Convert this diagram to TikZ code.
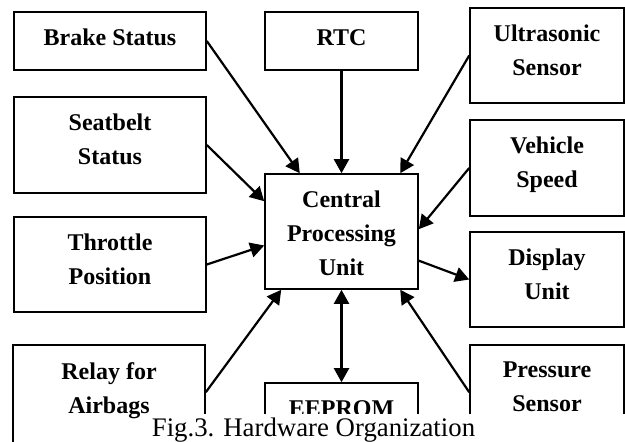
\documentclass[tikz,border=0pt]{standalone}
\usepackage{fontspec}
\setmainfont{Liberation Serif}
\usetikzlibrary{arrows.meta,calc,fit}

\tikzset{
  box/.style={draw, line width=0.8pt, inner sep=0pt},
  blab/.style={font=\bfseries\fontsize{12}{17}\selectfont, align=center, inner sep=0pt},
  link/.style={line width=1.1pt},
  caplab/.style={font=\fontsize{13.4}{16}\selectfont, inner sep=0pt}
}

\begin{document}
\begin{tikzpicture}[x=0.5pt,y=-0.5pt, >={Triangle[length=7pt,width=7.5pt]}]

\useasboundingbox (0,0) rectangle (625,441);
\clip (0,0) rectangle (625,441);

% 方框
\node[box, fit={(14,12) (206,70)}]    (brake)    {};
\node[box, fit={(265,12) (418,70)}]   (rtc)      {};
\node[box, fit={(470,8) (624,103)}]   (ultra)    {};
\node[box, fit={(14,97) (206,193)}]   (seat)     {};
\node[box, fit={(470,120) (624,216)}] (vehicle)  {};
\node[box, fit={(265,174) (418,289)}] (cpu)      {};
\node[box, fit={(14,217) (206,312)}]  (throttle) {};
\node[box, fit={(470,232) (624,327)}] (display)  {};
\node[box, fit={(13,345) (205,470)}]  (relay)    {};
\node[box, fit={(265,383) (418,470)}] (eeprom)   {};
\node[box, fit={(470,345) (624,470)}] (pressure) {};

% 方框文字
\foreach \b/\t in {brake/Brake Status, rtc/RTC, ultra/{Ultrasonic\\Sensor},
                   seat/{Seatbelt\\Status}, vehicle/{Vehicle\\Speed},
                   cpu/{Central\\Processing\\Unit}, throttle/{Throttle\\Position},
                   display/{Display\\Unit}, relay/{Relay for\\Airbags},
                   eeprom/EEPROM, pressure/{Pressure\\Sensor}}
  \node[blab, below=8.8pt] (\b-t) at (\b.north) {\t};

% CPU 边上的连接点
\coordinate (cpuN1) at ($(cpu.north west)!0.23!(cpu.north east)$);
\coordinate (cpuN2) at ($(cpu.north west)!0.88!(cpu.north east)$);
\coordinate (cpuS1) at ($(cpu.south west)!0.11!(cpu.south east)$);
\coordinate (cpuS2) at ($(cpu.south west)!0.88!(cpu.south east)$);
\coordinate (cpuW1) at ($(cpu.north west)!0.24!(cpu.south west)$);
\coordinate (cpuW2) at ($(cpu.north west)!0.62!(cpu.south west)$);
\coordinate (cpuE1) at ($(cpu.north east)!0.48!(cpu.south east)$);
\coordinate (cpuE2) at ($(cpu.north east)!0.75!(cpu.south east)$);

% 下面两个方框被图题遮住，另取出发点
\coordinate (relayE)    at ($(relay.north east)+(0,48)$);
\coordinate (pressureW) at ($(pressure.north west)+(0,48)$);

% 箭头
\draw[link,->] (brake.east)    -- (cpuN1);
\draw[link,->] (rtc.south)     -- (cpu.north);
\draw[link,->] (ultra.west)    -- (cpuN2);
\draw[link,->] (seat.east)     -- (cpuW1);
\draw[link,->] (vehicle.west)  -- (cpuE1);
\draw[link,->] (throttle.east) -- (cpuW2);
\draw[link,->] (cpuE2)         -- (display.west);
\draw[link,->] (relayE)        -- (cpuS1);
\draw[link,->] (pressureW)     -- (cpuS2);
\draw[link,<->] (cpu.south)    -- (eeprom.north);

% 图题
\fill[white] (140,414) rectangle (626,442);
\node[caplab, anchor=base] (cap) at (313.5,436) {Fig.3. Hardware Organization};

\end{tikzpicture}
\end{document}
